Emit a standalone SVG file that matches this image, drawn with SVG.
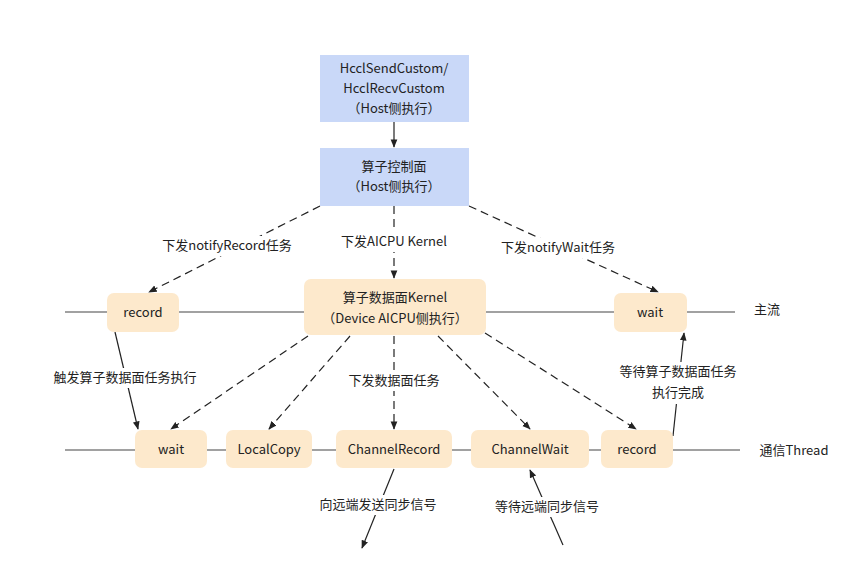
<svg xmlns="http://www.w3.org/2000/svg" width="865" height="572" viewBox="0 0 865 572">
<style>
text{font-family:"Noto Sans CJK SC","Noto Sans",sans-serif;font-size:13px;fill:#222;text-anchor:middle;dominant-baseline:middle}
.b{fill:#c9d8f8}.o{fill:#fde9cc}
.l{stroke:#444;stroke-width:1.2;fill:none}
.s{stroke:#222;stroke-width:1.2;fill:none;marker-end:url(#a)}
.d{stroke:#222;stroke-width:1.2;fill:none;stroke-dasharray:8 5;marker-end:url(#a)}
.lb{fill:#fff}
</style>
<defs><marker id="a" viewBox="0 0 10 10" refX="9" refY="5" markerWidth="7" markerHeight="7" orient="auto"><path d="M0,1 L10,5 L0,9 z" fill="#222"/></marker></defs>
<rect width="865" height="572" fill="#fff"/>
<g id="lines">
<line class="l" x1="65" y1="312" x2="735" y2="312"/>
<line class="l" x1="65" y1="450" x2="740" y2="450"/>
</g>
<g id="connectors">
<line class="s" x1="394" y1="122" x2="394" y2="147"/>
<line class="d" x1="320" y1="206" x2="149" y2="292"/>
<line class="d" x1="394" y1="206" x2="394" y2="278"/>
<line class="d" x1="469" y1="206" x2="658" y2="292"/>
<line class="s" x1="115" y1="332" x2="138" y2="429"/>
<line class="d" x1="308" y1="336" x2="171" y2="429"/>
<line class="d" x1="350" y1="336" x2="269" y2="429"/>
<line class="d" x1="394" y1="336" x2="394" y2="429"/>
<line class="d" x1="438" y1="336" x2="530" y2="429"/>
<line class="d" x1="485" y1="333" x2="636" y2="429"/>
<line class="s" x1="673" y1="436" x2="684" y2="333"/>
<line class="s" x1="394" y1="469" x2="362" y2="548"/>
<line class="s" x1="563" y1="545" x2="530" y2="470"/>
<rect class="lb" x="160" y="236" width="134" height="20"/>
<text x="227" y="246">下发notifyRecord任务</text>
<rect class="lb" x="336" y="232" width="116" height="20"/>
<text x="394" y="242">下发AICPU Kernel</text>
<rect class="lb" x="494" y="238" width="128" height="20"/>
<text x="558" y="248">下发notifyWait任务</text>
<rect class="lb" x="48" y="368" width="154" height="20"/>
<text x="125" y="378">触发算子数据面任务执行</text>
<rect class="lb" x="344" y="371" width="100" height="20"/>
<text x="394" y="381">下发数据面任务</text>
<rect class="lb" x="614" y="362" width="128" height="42"/>
<text x="678" y="372">等待算子数据面任务</text>
<text x="678" y="393">执行完成</text>
<rect class="lb" x="312" y="495" width="132" height="20"/>
<text x="378" y="505">向远端发送同步信号</text>
<rect class="lb" x="490" y="497" width="114" height="20"/>
<text x="547" y="507">等待远端同步信号</text>
<text x="767" y="310">主流</text>
<text x="794" y="451">通信Thread</text>
</g>
<g id="n1"><rect class="b" x="320" y="55" width="149" height="67"/><text x="394" y="69">HcclSendCustom/</text><text x="394" y="89">HcclRecvCustom</text><text x="394" y="109">（Host侧执行）</text></g>
<g id="n2"><rect class="b" x="320" y="148" width="149" height="58"/><text x="394" y="167">算子控制面</text><text x="394" y="187">（Host侧执行）</text></g>
<g id="n3"><rect class="o" x="107" y="293" width="72" height="39" rx="7"/><text x="143" y="313">record</text></g>
<g id="n4"><rect class="o" x="304" y="279" width="182" height="56" rx="7"/><text x="395" y="298">算子数据面Kernel</text><text x="395" y="319">（Device AICPU侧执行）</text></g>
<g id="n5"><rect class="o" x="614" y="293" width="73" height="39" rx="7"/><text x="650" y="313">wait</text></g>
<g id="n6"><rect class="o" x="135" y="430" width="72" height="38" rx="7"/><text x="171" y="450">wait</text></g>
<g id="n7"><rect class="o" x="226" y="430" width="86" height="38" rx="7"/><text x="269" y="450">LocalCopy</text></g>
<g id="n8"><rect class="o" x="336" y="430" width="116" height="38" rx="7"/><text x="394" y="450">ChannelRecord</text></g>
<g id="n9"><rect class="o" x="471" y="430" width="118" height="38" rx="7"/><text x="530" y="450">ChannelWait</text></g>
<g id="n10"><rect class="o" x="601" y="430" width="72" height="38" rx="7"/><text x="637" y="450">record</text></g>
</svg>
